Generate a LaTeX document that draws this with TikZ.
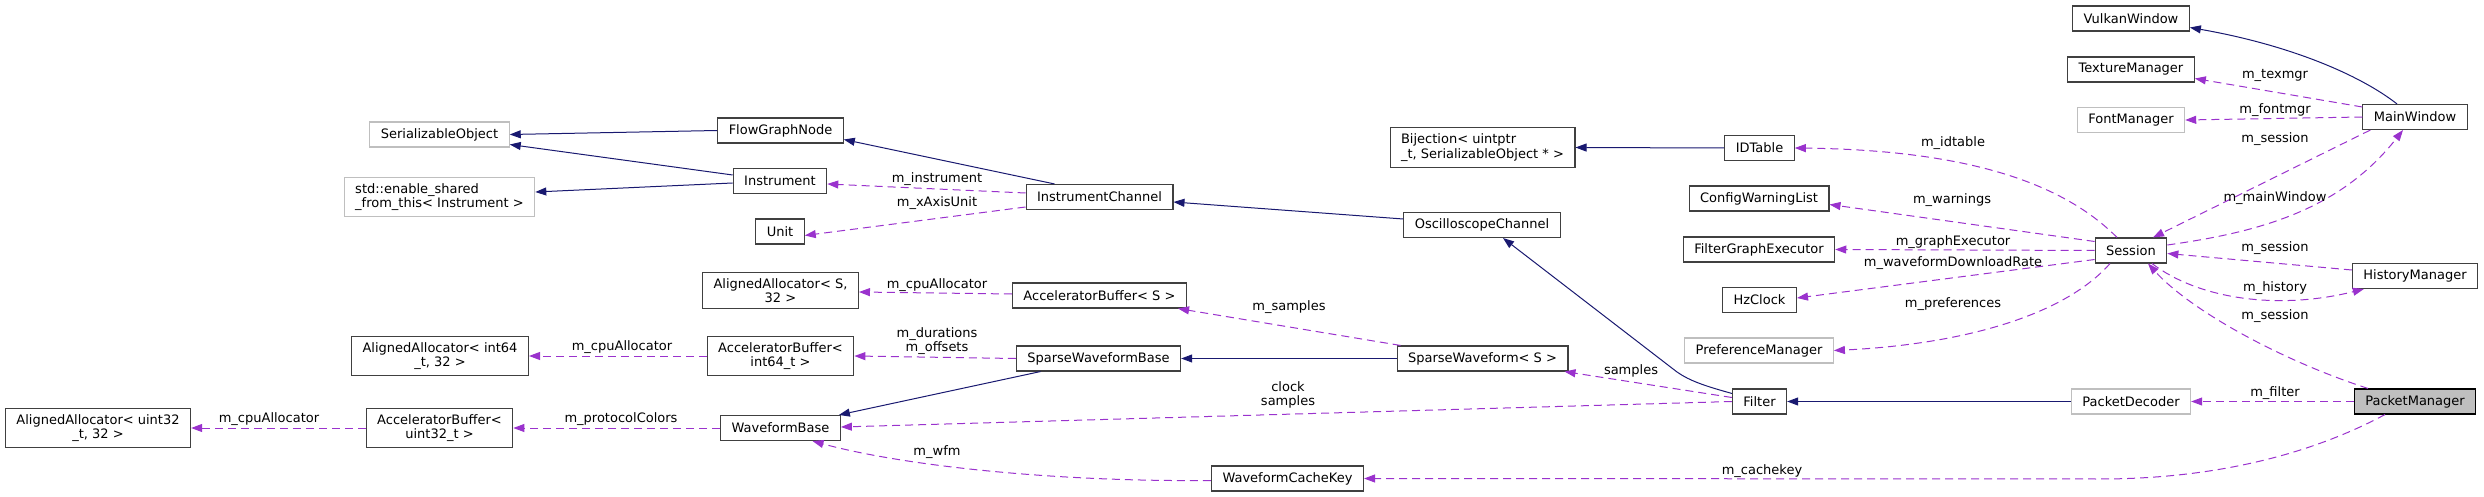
\documentclass[tikz,border=0pt]{standalone}
\usepackage{fontspec}
\setmainfont{DejaVu Sans}
\usetikzlibrary{arrows.meta}
\definecolor{inhcol}{HTML}{191970}
\definecolor{usecol}{HTML}{9A32CD}
\definecolor{boxcol}{HTML}{404040}
\definecolor{extcol}{HTML}{BFBFBF}

\begin{document}
\begin{tikzpicture}[x=1pt,y=-1pt,
    every node/.style={font=\fontsize{13}{14.5}\selectfont},
    cls/.style={draw=boxcol,line width=1.1pt,inner xsep=11pt,inner ysep=6pt,minimum height=25pt,align=center},
    ext/.style={cls,draw=extcol},
    lbl/.style={inner sep=1pt,align=center},
    inh/.style={draw=inhcol,line width=1pt,-{Triangle[length=11pt,width=8pt]}},
    use/.style={draw=usecol,line width=1pt,dash pattern=on 8pt off 5pt,-{Triangle[length=11pt,width=8pt]}}]
    \useasboundingbox (0,0) rectangle (2484,497);

    % classes
    \node[ext] (serobj) at (439.5,134.5) {SerializableObject};
    \node[ext,align=left] (enable) at (439.5,197) {std::enable\_shared\\\_from\_this< Instrument >};
    \node[cls] (ali64) at (440,356) {AlignedAllocator< int64\\\_t, 32 >};
    \node[cls] (accu32) at (439.5,428) {AcceleratorBuffer<\\uint32\_t >};
    \node[cls] (aliu32) at (98,428) {AlignedAllocator< uint32\\\_t, 32 >};
    \node[cls] (flownode) at (780.5,130.5) {FlowGraphNode};
    \node[cls] (instr) at (780,181) {Instrument};
    \node[cls] (unit) at (780,231.5) {Unit};
    \node[cls] (alis) at (780.5,290.5) {AlignedAllocator< S,\\32 >};
    \node[cls] (acci64) at (780.5,356) {AcceleratorBuffer<\\int64\_t >};
    \node[cls] (wfbase) at (780.5,428) {WaveformBase};
    \node[cls] (ichan) at (1099.5,197) {InstrumentChannel};
    \node[cls] (accs) at (1099.5,295.5) {AcceleratorBuffer< S >};
    \node[cls] (swbase) at (1098.5,358.5) {SparseWaveformBase};
    \node[cls] (wcache) at (1287.5,478.5) {WaveformCacheKey};
    \node[cls,align=left] (biject) at (1482.5,147.5) {Bijection< uintptr\\\_t, SerializableObject * >};
    \node[cls] (oscch) at (1482,225) {OscilloscopeChannel};
    \node[cls] (swave) at (1482.5,358.5) {SparseWaveform< S >};
    \node[cls] (idtable) at (1759.5,148) {IDTable};
    \node[cls] (cfgwarn) at (1759,198.5) {ConfigWarningList};
    \node[cls] (fgexec) at (1759,249.5) {FilterGraphExecutor};
    \node[cls] (hzclock) at (1759.5,300) {HzClock};
    \node[ext] (prefmgr) at (1759,350.5) {PreferenceManager};
    \node[cls] (filter) at (1759.5,401.5) {Filter};
    \node[cls] (vulkan) at (2131,18.5) {VulkanWindow};
    \node[cls] (texmgr) at (2131,69.5) {TextureManager};
    \node[ext] (fontmgr) at (2131,120) {FontManager};
    \node[cls] (session) at (2131,250.5) {Session};
    \node[ext] (pdec) at (2131,401.5) {PacketDecoder};
    \node[cls] (mainwin) at (2415,117) {MainWindow};
    \node[cls] (histmgr) at (2415,276) {HistoryManager};
    \node[cls,fill=extcol,draw=black] (pktmgr) at (2415,401.5) {PacketManager};

    % inheritance
    \draw[inh] (flownode.west) -- (serobj.east);
    \draw[inh] ([yshift=6pt]instr.west) -- ([yshift=-10pt]serobj.east);
    \draw[inh] ([yshift=-2pt]instr.west) -- ([yshift=5pt]enable.east);
    \draw[inh] ([xshift=-45pt]ichan.north) -- ([yshift=-9pt]flownode.east);
    \draw[inh] ([yshift=6pt]oscch.west) -- ([yshift=-5pt]ichan.east);
    \draw[inh] (idtable.west) -- (biject.east);
    \draw[inh] ([yshift=-5pt]filter.north west) .. controls (1705,386) and (1690,381) .. (1677,372) -- ([xshift=21pt]oscch.south);
    \draw[inh] (swave.west) -- (swbase.east);
    \draw[inh] ([xshift=-58pt]swbase.south) -- ([xshift=-2pt]wfbase.north east);
    \draw[inh] (pdec.west) -- (filter.east);
    \draw[inh] ([xshift=-18pt]mainwin.north) .. controls (2360,75) and (2290,45) .. ([yshift=-9pt]vulkan.east);

    % members
    \draw[use] ([yshift=4pt]ichan.west) -- ([yshift=-3pt]instr.east) node[lbl] at (937,179) {m\_instrument};
    \draw[use] ([yshift=-10pt]ichan.west) -- ([yshift=-4pt]unit.east) node[lbl] at (937,203) {m\_xAxisUnit};
    \draw[use] ([yshift=1.5pt]accs.west) -- ([yshift=-1.5pt]alis.east) node[lbl] at (937,285) {m\_cpuAllocator};
    \draw[use] ([xshift=4pt]swave.north west) -- ([xshift=-9pt]accs.south east) node[lbl] at (1289,307) {m\_samples};
    \draw[use] (acci64.west) -- (ali64.east) node[lbl] at (622,347) {m\_cpuAllocator};
    \draw[use] (swbase.west) -- (acci64.east) node[lbl] at (937,341) {m\_durations\\m\_offsets};
    \draw[use] (wfbase.west) -- (accu32.east) node[lbl] at (621,419) {m\_protocolColors};
    \draw[use] (accu32.west) -- (aliu32.east) node[lbl] at (269,419) {m\_cpuAllocator};
    \draw[use] (filter.west) -- ([yshift=1pt]wfbase.east) node[lbl] at (1288,395) {clock\\samples};
    \draw[use] ([yshift=4pt]filter.west) -- ([xshift=-4pt]swave.south east) node[lbl] at (1631,371) {samples};
    \draw[use] ([yshift=-2pt]wcache.west) .. controls (1050,482) and (900,465) .. ([xshift=32pt]wfbase.south) node[lbl] at (937,452) {m\_wfm};
    \draw[use] ([xshift=-30pt]pktmgr.south) .. controls (2300,460) and (2200,479) .. (2100,479) -- (wcache.east) node[lbl] at (1762,471) {m\_cachekey};
    \draw[use] (pktmgr.west) -- (pdec.east) node[lbl] at (2275,393) {m\_filter};
    \draw[use] ([xshift=-47pt]pktmgr.north) .. controls (2280,360) and (2190,310) .. ([xshift=17pt]session.south) node[lbl] at (2275,316) {m\_session};
    \draw[use] ([yshift=6pt]histmgr.west) -- ([yshift=-3pt]session.east) node[lbl] at (2275,248) {m\_session};
    \draw[use] ([xshift=21pt]session.south) .. controls (2200,300) and (2280,310) .. ([xshift=12pt]histmgr.south west) node[lbl] at (2275,288) {m\_history};
    \draw[use] ([xshift=8pt]mainwin.south west) -- ([xshift=22pt]session.north) node[lbl] at (2275,139) {m\_session};
    \draw[use] ([yshift=5.5pt]session.east) .. controls (2260,232) and (2340,210) .. ([xshift=-12pt]mainwin.south) node[lbl] at (2275,198) {m\_mainWindow};
    \draw[use] ([yshift=10pt]mainwin.west) -- ([yshift=-9pt]texmgr.east) node[lbl] at (2275,75) {m\_texmgr};
    \draw[use] (mainwin.west) -- (fontmgr.east) node[lbl] at (2275,110) {m\_fontmgr};
    \draw[use] ([xshift=-14pt]session.north) .. controls (2060,180) and (1960,150) .. (idtable.east) node[lbl] at (1953,143) {m\_idtable};
    \draw[use] ([yshift=9pt]session.west) -- ([yshift=-6pt]cfgwarn.east) node[lbl] at (1952,200) {m\_warnings};
    \draw[use] (session.west) -- (fgexec.east) node[lbl] at (1953,242) {m\_graphExecutor};
    \draw[use] ([yshift=-9pt]session.west) -- ([yshift=2pt]hzclock.east) node[lbl] at (1953,263) {m\_waveformDownloadRate};
    \draw[use] ([xshift=-21pt]session.south) .. controls (2060,320) and (1950,345) .. (prefmgr.east) node[lbl] at (1953,304) {m\_preferences};
\end{tikzpicture}
\end{document}
